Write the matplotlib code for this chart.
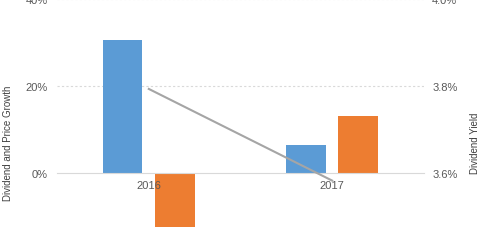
import matplotlib
matplotlib.use("Agg")
import matplotlib.pyplot as plt
import numpy as np
from matplotlib.ticker import FuncFormatter

plt.rcParams['font.family'] = ['Liberation Sans', 'DejaVu Sans']

years = ["2016", "2017"]
dividend_growth = [30.6, 6.4]
price_growth = [-12.4, 13.1]
dividend_yield = [3.793, 3.582]

blue = "#5B9BD5"
orange = "#ED7D31"

fig = plt.figure(figsize=(4.8, 2.51), dpi=100)
ax = fig.add_axes([0.119, 0.048, 0.764, 0.952])
x = np.arange(len(years))
w = 0.217
off = 0.143
ax.bar(x - off, dividend_growth, w, color=blue, zorder=1)
ax.bar(x + off, price_growth, w, color=orange, zorder=1)
ax.set_xlim(-0.5, 1.5)
ax.set_ylim(-15, 40)
ax.set_yticks([0, 20, 40])
ax.yaxis.set_major_formatter(FuncFormatter(lambda v, p: f"{v:.0f}%"))
for y in [20, 40]:
    ax.axhline(y, color="#d9d9d9", lw=0.8, ls=(0, (2, 2)), zorder=0)
for s in ["top", "right", "left"]:
    ax.spines[s].set_visible(False)
ax.spines['bottom'].set_position(('data', 0))
ax.spines['bottom'].set_color("#d9d9d9")
ax.set_xticks(x)
ax.set_xticklabels(years)
ax.tick_params(axis='x', length=0, pad=5, labelsize=8, labelcolor="#595959")
ax.tick_params(axis='y', length=0, pad=7, labelsize=8, labelcolor="#595959")
ax.set_ylabel("Dividend and Price Growth", fontsize=7, color="#404040")
ax.yaxis.set_label_coords(-0.119, 0.40)

ax2 = ax.twinx()
ax2.plot(x, dividend_yield, color="#a5a5a5", lw=1.5, zorder=3)
ax2.set_ylim(3.45, 4.0)
ax2.set_yticks([3.6, 3.8, 4.0])
ax2.yaxis.set_major_formatter(FuncFormatter(lambda v, p: f"{v:.1f}%"))
for s in ["top", "right", "left", "bottom"]:
    ax2.spines[s].set_visible(False)
ax2.tick_params(axis='y', length=0, pad=6, labelsize=8, labelcolor="#595959")
ax2.set_ylabel("Dividend Yield", fontsize=7, color="#404040")
ax2.yaxis.set_label_coords(1.126, 0.40)

fig.savefig("out.png", dpi=100)
